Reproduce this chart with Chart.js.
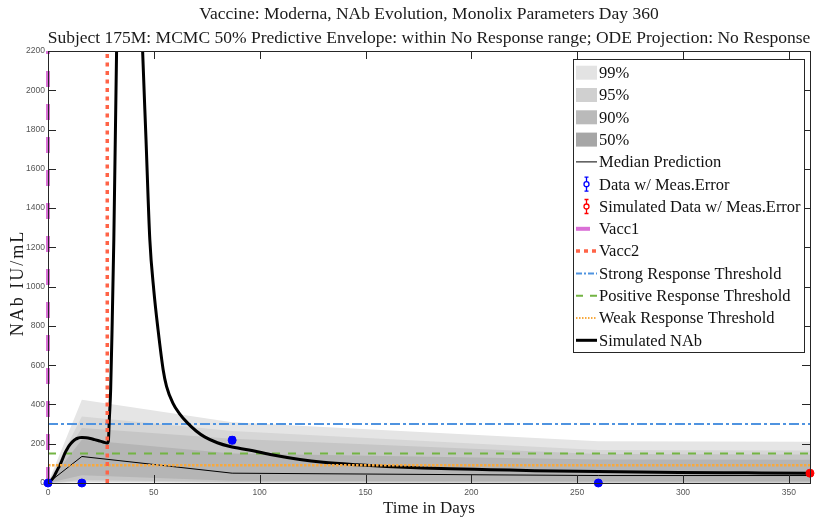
<!DOCTYPE html>
<html>
<head>
<meta charset="utf-8">
<script src="https://cdn.jsdelivr.net/npm/chart.js@4/dist/chart.umd.min.js"></script>
<style>
  html, body { margin: 0; padding: 0; background: #fff; }
  #wrap { width: 818px; height: 521px; }
</style>
</head>
<body>
<div id="wrap"><canvas id="c" width="818" height="521"></canvas></div>
<script>
// ---- Predictive envelope (days, lower/upper bounds per band) ----
const bandDays = [0, 16, 87, 260, 360];
const p99Hi = [0, 424, 310, 212, 210];
const p99Lo = [0, 2, 0, 0, 0];
const p95Hi = [0, 339, 265, 168, 166];
const p95Lo = [0, 8, 2, 1, 1];
const p90Hi = [0, 280, 225, 148, 145];
const p90Lo = [0, 15, 5, 3, 3];
const p50Hi = [0, 220, 150, 120, 118];
const p50Lo = [0, 40, 12, 8, 8];
const medianPred = [0, 135, 50, 38, 38];

// ---- Measured data and simulated data point ----
const dataDays = [0, 16, 87, 260];
const dataNAb = [0, 0, 218, 0];
const dataErr = [2, 2, 14, 2];
const simDays = [360];
const simNAb = [50];
const simErr = [4];

// ---- Vaccination days and response thresholds ----
const vacc1Day = 0;
const vacc2Day = 28;
const strongThr = 300;
const positiveThr = 150;
const weakThr = 90;

// ---- ODE projection of NAb ----
const nabDays = [0, 1, 2, 3, 4, 5, 6, 7, 8, 9, 10, 11, 12, 13, 14, 15, 16, 18, 20, 22, 24, 26, 28,
  28.5, 29, 29.6, 30.3, 31.1, 32.4, 34, 36, 38, 40, 42, 44.7, 46.3, 48.1, 50, 52, 54.4, 56, 59, 62,
  66, 70, 74, 80, 86, 95, 105, 119, 130, 146, 160, 177, 190, 209, 230, 260, 298, 330, 360];
const nabVals = [0, 8, 20, 36, 58, 78, 100, 126, 152, 172, 190, 204, 215, 223, 228, 231, 232, 231, 227, 221, 215, 209, 204,
  212, 330, 475, 800, 1240, 2200, 3100, 3600, 3800, 3600, 3100, 2200, 1750, 1240, 980, 780, 577, 492, 407, 355,
  305, 265, 235, 205, 186, 168, 145, 120, 106, 93, 84, 76, 72, 68, 63, 58, 54, 52, 50];

// ---- Axis ticks ----
const xTicks = [0, 50, 100, 150, 200, 250, 300, 350];
const yTicks = [0, 200, 400, 600, 800, 1000, 1200, 1400, 1600, 1800, 2000, 2200];

const titleLines = [
  'Vaccine: Moderna, NAb Evolution, Monolix Parameters Day 360',
  'Subject 175M: MCMC 50% Predictive Envelope: within No Response range; ODE Projection: No Response'
];
const xLabel = 'Time in Days';
const yLabel = 'NAb IU/mL';

const C = {
  b99: '#e5e5e5', b95: '#d6d6d6', b90: '#c6c6c6', b50: '#b5b5b5',
  l99: '#e3e3e3', l95: '#d0d0d0', l90: '#bababa', l50: '#a6a6a6',
  vacc1: '#da70d6', vacc2: '#ff6347',
  strong: '#4f93e0', positive: '#73b443', weak: '#f7a93f',
  data: '#0000ff', sim: '#ff0000'
};
const SERIF = '"Liberation Serif", "DejaVu Serif", serif';
const SANS = '"Liberation Sans Narrow", "Liberation Sans", Arial, sans-serif';

const pts = (xs, ys) => xs.map((x, i) => ({ x: x, y: ys[i] }));
const hline = (v) => [{ x: 0, y: v }, { x: 360, y: v }];
const vline = (d) => [{ x: d, y: 0 }, { x: d, y: 2200 }];

function bandPair(hi, lo, color, order) {
  return [
    { data: pts(bandDays, hi), borderWidth: 0, pointRadius: 0, backgroundColor: color,
      fill: { target: '+1' }, order: order, tension: 0 },
    { data: pts(bandDays, lo), borderWidth: 0, pointRadius: 0, fill: false, order: order, tension: 0 }
  ];
}

const datasets = [
  ...bandPair(p99Hi, p99Lo, C.b99, 40),
  ...bandPair(p95Hi, p95Lo, C.b95, 39),
  ...bandPair(p90Hi, p90Lo, C.b90, 38),
  ...bandPair(p50Hi, p50Lo, C.b50, 37),
  { label: 'Median Prediction', data: pts(bandDays, medianPred), borderColor: '#000', borderWidth: 1,
    pointRadius: 0, fill: false, order: 20 },
  { label: 'Strong', data: hline(strongThr), borderColor: C.strong, borderWidth: 2,
    borderDash: [10, 3, 3, 3], pointRadius: 0, fill: false, order: 15 },
  { label: 'Positive', data: hline(positiveThr), borderColor: C.positive, borderWidth: 2,
    borderDash: [8, 8], pointRadius: 0, fill: false, order: 15 },
  { label: 'Simulated NAb', data: pts(nabDays, nabVals), borderColor: '#000', borderWidth: 3,
    pointRadius: 0, fill: false, cubicInterpolationMode: 'monotone', order: 12 },
  { label: 'Weak', data: hline(weakThr), borderColor: C.weak, borderWidth: 2.5,
    borderDash: [2.5, 1.5], pointRadius: 0, fill: false, order: 10 },
  { label: 'Vacc2', data: vline(vacc2Day), borderColor: C.vacc2, borderWidth: 3.5,
    borderDash: [4, 4.5], pointRadius: 0, fill: false, order: 9 },
  { label: 'Vacc1', data: vline(vacc1Day), borderColor: C.vacc1, borderWidth: 4,
    borderDash: [16, 17], pointRadius: 0, fill: false, clip: false, order: 8 },
  { label: 'Data', type: 'scatter', data: pts(dataDays, dataNAb), backgroundColor: C.data,
    borderColor: C.data, pointRadius: 4, clip: false, order: 2 },
  { label: 'Simulated Data', type: 'scatter', data: pts(simDays, simNAb), backgroundColor: C.sim,
    borderColor: C.sim, pointRadius: 4, clip: false, order: 1 }
];

function drawErrorBars(ctx, xs, ys, errs, color, sx, sy) {
  ctx.save();
  ctx.strokeStyle = color;
  ctx.lineWidth = 2.5;
  xs.forEach((d, i) => {
    const px = sx.getPixelForValue(d);
    const y1 = sy.getPixelForValue(ys[i] - errs[i]);
    const y2 = sy.getPixelForValue(ys[i] + errs[i]);
    ctx.beginPath();
    ctx.moveTo(px, y1); ctx.lineTo(px, y2);
    ctx.moveTo(px - 3, y1); ctx.lineTo(px + 3, y1);
    ctx.moveTo(px - 3, y2); ctx.lineTo(px + 3, y2);
    ctx.stroke();
  });
  ctx.restore();
}

const legendItems = [
  { text: '99%', kind: 'box', color: C.l99 },
  { text: '95%', kind: 'box', color: C.l95 },
  { text: '90%', kind: 'box', color: C.l90 },
  { text: '50%', kind: 'box', color: C.l50 },
  { text: 'Median Prediction', kind: 'line', color: '#000', width: 1, dash: [] },
  { text: 'Data w/ Meas.Error', kind: 'err', color: C.data },
  { text: 'Simulated Data w/ Meas.Error', kind: 'err', color: C.sim },
  { text: 'Vacc1', kind: 'line', color: C.vacc1, width: 4, dash: [], len: 14 },
  { text: 'Vacc2', kind: 'line', color: C.vacc2, width: 3.5, dash: [4, 4] },
  { text: 'Strong Response Threshold', kind: 'line', color: C.strong, width: 2, dash: [6, 2, 2, 2] },
  { text: 'Positive Response Threshold', kind: 'line', color: C.positive, width: 2, dash: [7, 7] },
  { text: 'Weak Response Threshold', kind: 'line', color: C.weak, width: 2, dash: [1.5, 1.5] },
  { text: 'Simulated NAb', kind: 'line', color: '#000', width: 3, dash: [] }
];

const decor = {
  id: 'decor',
  afterDatasetsDraw(chart) {
    const ctx = chart.ctx, a = chart.chartArea;
    const sx = chart.scales.x, sy = chart.scales.y;
    drawErrorBars(ctx, dataDays, dataNAb, dataErr, C.data, sx, sy);
    drawErrorBars(ctx, simDays, simNAb, simErr, C.sim, sx, sy);

    // axes box and inward ticks on all four sides
    ctx.save();
    ctx.strokeStyle = '#262626';
    ctx.lineWidth = 1;
    ctx.strokeRect(Math.round(a.left) + 0.5, Math.round(a.top) + 0.5,
      Math.round(a.right - a.left), Math.round(a.bottom - a.top));
    ctx.beginPath();
    const tl = 8;
    xTicks.forEach(v => {
      const px = Math.round(sx.getPixelForValue(v)) + 0.5;
      ctx.moveTo(px, a.bottom); ctx.lineTo(px, a.bottom - tl);
      ctx.moveTo(px, a.top); ctx.lineTo(px, a.top + tl);
    });
    yTicks.forEach(v => {
      const py = Math.round(sy.getPixelForValue(v)) + 0.5;
      ctx.moveTo(a.left, py); ctx.lineTo(a.left + tl, py);
      ctx.moveTo(a.right, py); ctx.lineTo(a.right - tl, py);
    });
    ctx.stroke();
    ctx.restore();
  },
  afterDraw(chart) {
    const ctx = chart.ctx, a = chart.chartArea;
    const cx = (a.left + a.right) / 2;
    ctx.save();
    ctx.fillStyle = '#1a1a1a';
    ctx.textAlign = 'center';
    ctx.textBaseline = 'alphabetic';
    ctx.font = '17.5px ' + SERIF;
    ctx.fillText(titleLines[0], cx, 19);
    ctx.fillText(titleLines[1], cx, 43);

    ctx.font = '17px ' + SERIF;
    ctx.fillText(xLabel, cx, 513);
    ctx.save();
    ctx.translate(23, 283);
    ctx.rotate(-Math.PI / 2);
    ctx.font = '18px ' + SERIF;
    ctx.letterSpacing = '2px';
    ctx.fillText(yLabel, 0, 0);
    ctx.restore();

    // legend
    const lx = 573, ly = 59, lw = 231, lh = 293;
    ctx.fillStyle = '#fff';
    ctx.fillRect(lx, ly, lw, lh);
    ctx.strokeStyle = '#262626';
    ctx.lineWidth = 1;
    ctx.strokeRect(lx + 0.5, ly + 0.5, lw, lh);
    ctx.font = '16.5px ' + SERIF;
    ctx.textAlign = 'left';
    ctx.textBaseline = 'middle';
    legendItems.forEach((it, i) => {
      const y = 72.7 + i * 22.3;
      const x0 = 576, x1 = 597;
      if (it.kind === 'box') {
        ctx.fillStyle = it.color;
        ctx.fillRect(x0, y - 7, x1 - x0, 14);
      } else if (it.kind === 'line') {
        ctx.strokeStyle = it.color;
        ctx.lineWidth = it.width;
        ctx.setLineDash(it.dash);
        ctx.beginPath();
        ctx.moveTo(x0, y); ctx.lineTo(x0 + (it.len || (x1 - x0)), y);
        ctx.stroke();
        ctx.setLineDash([]);
      } else if (it.kind === 'err') {
        const mx = 586.5;
        ctx.strokeStyle = it.color;
        ctx.lineWidth = 1.3;
        ctx.beginPath();
        ctx.moveTo(mx, y - 7); ctx.lineTo(mx, y - 2.5);
        ctx.moveTo(mx, y + 2.5); ctx.lineTo(mx, y + 7);
        ctx.moveTo(mx - 2, y - 7); ctx.lineTo(mx + 2, y - 7);
        ctx.moveTo(mx - 2, y + 7); ctx.lineTo(mx + 2, y + 7);
        ctx.stroke();
        ctx.beginPath();
        ctx.arc(mx, y, 2.5, 0, Math.PI * 2);
        ctx.stroke();
      }
      ctx.fillStyle = '#111';
      ctx.fillText(it.text, 599, y + 1);
    });
    ctx.restore();
  }
};

new Chart(document.getElementById('c'), {
  type: 'line',
  data: { datasets: datasets },
  options: {
    responsive: false,
    animation: false,
    layout: { padding: { top: 51, right: 8, left: 0, bottom: 0 } },
    plugins: { legend: { display: false }, title: { display: false }, tooltip: { enabled: false } },
    elements: { line: { tension: 0 } },
    scales: {
      x: {
        type: 'linear', min: 0, max: 360,
        afterBuildTicks: (s) => { s.ticks = xTicks.map(v => ({ value: v })); },
        afterFit: (s) => { s.height = 38; },
        grid: { display: false, drawTicks: false },
        border: { display: false },
        ticks: { padding: 5, color: '#555', font: { family: SANS, size: 8.5 }, maxRotation: 0,
          autoSkip: false, callback: (v) => String(v) }
      },
      y: {
        type: 'linear', min: 0, max: 2200,
        afterBuildTicks: (s) => { s.ticks = yTicks.map(v => ({ value: v })); },
        afterFit: (s) => { s.width = 48; },
        grid: { display: false, drawTicks: false },
        border: { display: false },
        ticks: { padding: 3, color: '#555', font: { family: SANS, size: 8.5 }, autoSkip: false,
          callback: (v) => String(v) }
      }
    }
  },
  plugins: [decor]
});
</script>
</body>
</html>
